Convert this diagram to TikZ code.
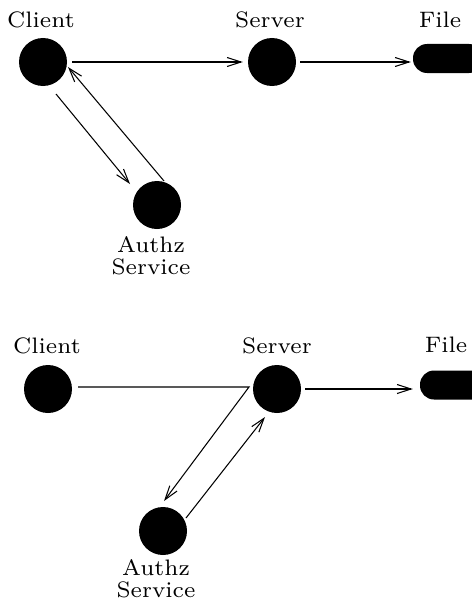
\documentclass[tikz,border=0pt]{standalone}
\usetikzlibrary{arrows.meta,calc}
% labels use a small optical size of the roman face, enlarged
\newcommand{\bigsmall}[1]{\scalebox{3.2}{\fontsize{7}{7}\selectfont#1}}
\newcommand{\twolines}[2]{\vtop{\halign{\hfil##\hfil\cr #1\cr #2\cr}}}
\begin{document}
\begin{tikzpicture}[x=1pt,y=-1pt,
  dot/.style={circle,fill=black,minimum size=48pt,inner sep=0pt},
  store/.style={fill=black,rounded corners=14pt,minimum width=70pt,minimum height=29pt,inner sep=0pt},
  lbl/.style={inner sep=0pt,anchor=base},
  arr/.style={-{Straight Barb[length=14pt,width=9pt]},line width=1.05pt}]
\useasboundingbox (0,0) rectangle (471,602);

% ---- upper scheme: client fetches the token itself ----
\node[dot] (client) at (43,62) {};
\node[dot] (server) at (272,62) {};
\node[dot] (authz) at (157,205) {};
\node[store] (file) at (448,58.5) {};
\node[lbl] (clientlbl) at (41,27.5) {\bigsmall{Client}};
\node[lbl] (serverlbl) at (270,27.5) {\bigsmall{Server}};
\node[lbl] (filelbl) at (440,27.5) {\bigsmall{File}};
\node[lbl] (authzlbl) at (151,252) {\bigsmall{\twolines{Authz}{Service}}};

\draw[arr] ($(client.east)+(5,0)$) -- ($(server.west)+(-5,0)$);
\draw[arr] ($(server.east)+(4,0)$) -- ($(server.east -| file.west)+(-2,0)$);
\draw[arr] ($(client)+(13,32)$) -- ($(authz)+(-27,-21)$);
\draw[arr] ($(authz)+(7,-24)$) -- ($(client)+(25,5)$);

% ---- lower scheme: server consults the authz service ----
\node[dot] (client2) at (48,389) {};
\node[dot] (server2) at (277,389) {};
\node[dot] (authz2) at (163,531) {};
\node[store] (file2) at (455,385) {};
\node[lbl] (client2lbl) at (47,353) {\bigsmall{Client}};
\node[lbl] (server2lbl) at (277,353) {\bigsmall{Server}};
\node[lbl] (file2lbl) at (446,352) {\bigsmall{File}};
\node[lbl] (authz2lbl) at (156,575) {\bigsmall{\twolines{Authz}{Service}}};

\coordinate (relay) at (249,387);
\draw[arr,line join=miter] ($(client2.east)+(6,-2)$) -- (relay) -- ($(authz2)+(1,-30)$);
\draw[arr] ($(authz2)+(23,-13)$) -- ($(server2)+(-12,28)$);
\draw[arr] ($(server2.east)+(4,0)$) -- ($(server2.east -| file2.west)+(-7,0)$);
\end{tikzpicture}
\end{document}
